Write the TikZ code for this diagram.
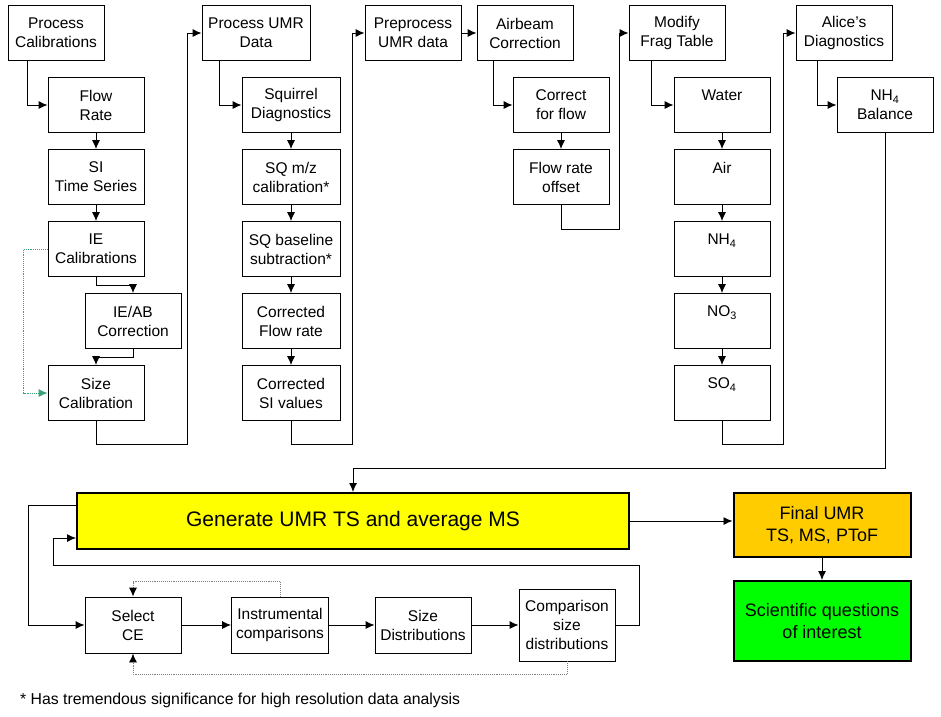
\documentclass[tikz,border=0pt]{standalone}
\usepackage{fontspec}
\setmainfont{Liberation Sans}
\usetikzlibrary{arrows.meta}

\definecolor{genyellow}{RGB}{255,255,0}
\definecolor{finalorange}{RGB}{255,204,0}
\definecolor{sciencegreen}{RGB}{0,255,0}
\definecolor{dotgreen}{RGB}{60,160,120}

\tikzset{
    box/.style={draw, rectangle, line width=0.9pt, inner sep=0pt, minimum width=96pt, minimum height=55pt, align=center, font=\fontsize{15.5}{19}\selectfont},
    bigbox/.style={draw, rectangle, line width=2pt, inner sep=0pt, align=center},
    arr/.style={line width=0.9pt, -{Latex[length=9pt,width=8pt]}},
    link/.style={line width=0.9pt},
    backdots/.style={line width=0.9pt, densely dotted, gray, -{Latex[length=9pt,width=8pt,color=black]}}
}

\begin{document}
\begin{tikzpicture}[x=1pt, y=-1pt]
\useasboundingbox (0,0) rectangle (941,716);

\node[box] (pcal) at (56,33) {Process\\Calibrations};
\node[box] (flow) at (96,105) {Flow\\Rate};
\node[box] (sits) at (96,177) {SI\\Time Series};
\node[box] (iecal) at (96,249) {IE\\Calibrations};
\node[box] (ieab) at (133,321) {IE/AB\\Correction};
\node[box] (sizecal) at (96,393) {Size\\Calibration};

\node[box, minimum width=108pt] (pumr) at (256,33) {Process UMR\\Data};
\node[box, minimum width=98pt] (sqdiag) at (291,105) {Squirrel\\Diagnostics};
\node[box, minimum width=98pt] (sqmz) at (291,177) {SQ m/z\\calibration*};
\node[box, minimum width=98pt] (sqbase) at (291,249) {SQ baseline\\subtraction*};
\node[box, minimum width=98pt] (corflow) at (291,321) {Corrected\\Flow rate};
\node[box, minimum width=98pt] (corsi) at (291,393) {Corrected\\SI values};

\node[box] (prep) at (413,33) {Preprocess\\UMR data};
\node[box] (airb) at (525,33) {Airbeam\\Correction};
\node[box] (corr) at (561,105) {Correct\\for flow};
\node[box] (froff) at (561,177) {Flow rate\\offset};

\node[box] (modf) at (677,33) {Modify\\Frag Table};
\node[box] (water) at (722,105) {Water\\~};
\node[box] (air) at (722,177) {Air\\~};
\node[box] (nhf) at (722,249) {NH\textsubscript{4}\\~};
\node[box] (nof) at (722,321) {NO\textsubscript{3}\\~};
\node[box] (sof) at (722,393) {SO\textsubscript{4}\\~};

\node[box] (alice) at (844,33) {Alice’s\\Diagnostics};
\node[box] (nhbal) at (885,105) {NH\textsubscript{4}\\Balance};

\node[bigbox, fill=genyellow, minimum width=552pt, minimum height=56pt, font=\fontsize{21}{25}\selectfont] (gen) at (353,521) {Generate UMR TS and average MS};
\node[bigbox, fill=finalorange, minimum width=177pt, minimum height=64pt, font=\fontsize{18}{22}\selectfont] (final) at (822,525) {Final UMR\\TS, MS, PToF};
\node[bigbox, fill=sciencegreen, minimum width=177pt, minimum height=80pt, font=\fontsize{18}{22}\selectfont] (sci) at (822,621) {Scientific questions\\of interest};

\node[box, minimum height=56pt] (selce) at (133,625) {Select\\CE};
\node[box, minimum width=97pt, minimum height=56pt] (inst) at (280,625) {Instrumental\\comparisons};
\node[box, minimum height=56pt] (sdist) at (423,625) {Size\\Distributions};
\node[box, minimum height=72pt] (comp) at (567,625) {Comparison\\size\\distributions};

\node[anchor=west, inner sep=0pt, font=\fontsize{15.8}{18}\selectfont] (note) at (20,700) {* Has tremendous significance for high resolution data analysis};

\draw[arr] ([xshift=-29pt]pcal.south) |- (flow.west);
\draw[arr] (flow) -- (sits);
\draw[arr] (sits) -- (iecal);
\draw[arr] (iecal.south) -- ++(0,8) -| (ieab.north);
\draw[arr] (ieab.south) -- ++(0,8) -| (sizecal.north);
\draw[line width=0.9pt, densely dotted, dotgreen, -{Latex[length=9pt,width=8pt]}] (iecal.west) -- ++(-24,0) |- (sizecal.west);
\draw[arr] (sizecal.south) -- ++(0,23) -- ++(91,0) |- (pumr.west);

\draw[arr] ([xshift=-37pt]pumr.south) |- (sqdiag.west);
\draw[arr] (sqdiag) -- (sqmz);
\draw[arr] (sqmz) -- (sqbase);
\draw[arr] (sqbase) -- (corflow);
\draw[arr] (corflow) -- (corsi);
\draw[arr] (corsi.south) -- ++(0,23) -- ++(61,0) |- (prep.west);

\draw[arr] (prep) -- (airb);
\draw[arr] ([xshift=-32pt]airb.south) |- (corr.west);
\draw[arr] (corr) -- (froff);
\draw[arr] (froff.south) -- ++(0,24) -- ++(58,0) |- (modf.west);

\draw[arr] ([xshift=-26pt]modf.south) |- (water.west);
\draw[arr] (water) -- (air);
\draw[arr] (air) -- (nhf);
\draw[arr] (nhf) -- (nof);
\draw[arr] (nof) -- (sof);
\draw[arr] (sof.south) -- ++(0,23) -- ++(61,0) |- (alice.west);

\draw[arr] ([xshift=-27pt]alice.south) |- (nhbal.west);
\draw[arr] (nhbal.south) -- ++(0,335) -| (gen.north);

\draw[arr] (gen.east) -- (gen.east -| final.west);
\draw[arr] (final) -- (sci);

\draw[arr] ([yshift=16pt]gen.west) -- ++(-48,0) |- (selce.west);
\draw[arr] (selce) -- (inst);
\draw[arr] (inst) -- (sdist);
\draw[arr] (sdist) -- (comp);
\draw[arr] (comp.east) -- ++(24,0) -- ++(0,-60) -- ++(-586,0) |- ([yshift=-17pt]gen.west);
\draw[backdots] (inst.north) -- ++(0,-15) -| (selce.north);
\draw[backdots] (comp.south) -- ++(0,13) -| (selce.south);

\end{tikzpicture}
\end{document}
